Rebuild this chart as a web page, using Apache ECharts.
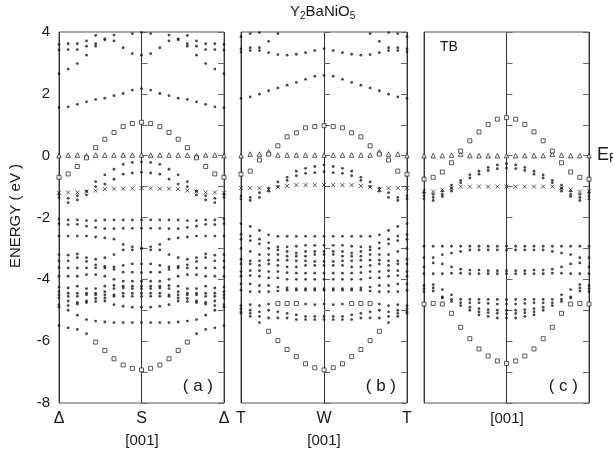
<!DOCTYPE html>
<html>
<head>
<meta charset="utf-8">
<script src="https://cdn.jsdelivr.net/npm/echarts@6/dist/echarts.min.js"></script>
<style>
  html, body { margin: 0; padding: 0; background: #fff; }
  #chart { width: 613px; height: 454px; }
</style>
</head>
<body>
<div id="chart"></div>
<script>
// each band lists energies (eV) from the zone edge (k = -1) to the centre (k = 0),
// 10 k points; the second half of each path mirrors the first
const kSteps = 9

// panel (a): Δ - S - Δ
const aTicks = ['Δ', 'S', 'Δ']
const aDots = [
  [3.6, 3.62, 3.62, 3.71, 3.89, 4.05, 4.1, 4.1, 3.95, 3.98],
  [3.42, 3.43, 3.43, 3.54, 3.62, 3.78, 3.71, 3.49, 3.3, 3.25],
  [2.65, 2.8, 2.98, 3.25, 3.54, 3.75, 3.9, 4.1, 4.2, 4.2],
  [1.55, 1.58, 1.66, 1.74, 1.82, 1.86, 1.94, 2.01, 2.12, 2.17],
  [-1.25, -1.38, -1.43, -1.27, -0.84, -0.62, -0.44, -0.28, -0.22, -0.2],
  [-1.35, -1.52, -1.3, -1.15, -1.0, -0.92, -0.76, -0.6, -0.56, -0.54],
  [-2.05, -2.08, -2.08, -2.1, -2.1, -2.08, -2.08, -2.08, -2.08, -2.08],
  [-2.2, -2.23, -2.22, -2.28, -2.32, -2.36, -2.36, -2.35, -2.35, -2.35],
  [-2.6, -2.6, -2.6, -2.6, -2.63, -2.66, -2.7, -2.87, -2.95, -3.0],
  [-3.2, -3.22, -3.18, -3.3, -3.35, -3.3, -3.2, -3.05, -3.05, -3.0],
  [-3.4, -3.4, -3.3, -3.42, -3.53, -3.58, -3.6, -3.55, -3.5, -3.5],
  [-3.62, -3.63, -3.63, -3.63, -3.63, -3.63, -3.68, -3.77, -3.77, -3.78],
  [-3.9, -3.9, -3.9, -3.85, -3.85, -3.9, -4.0, -4.06, -4.06, -4.06],
  [-4.25, -4.28, -4.22, -4.3, -4.3, -4.22, -4.2, -4.22, -4.22, -4.22],
  [-4.4, -4.45, -4.45, -4.45, -4.45, -4.4, -4.3, -4.28, -4.3, -4.3],
  [-4.5, -4.55, -4.55, -4.5, -4.5, -4.5, -4.5, -4.45, -4.45, -4.45],
  [-4.6, -4.7, -4.75, -4.7, -4.62, -4.6, -4.55, -4.55, -4.55, -4.55],
  [-4.82, -4.85, -4.8, -4.75, -4.72, -4.7, -4.82, -4.87, -4.9, -4.9],
  [-4.9, -5.0, -5.16, -5.3, -5.35, -5.38, -5.4, -5.4, -5.4, -5.4],
  [-5.5, -5.57, -5.62, -5.76, null, null, null, null, null, null]
]
const aSquares = [
  [-0.7, -0.59, -0.35, -0.07, 0.26, 0.53, 0.75, 0.94, 1.04, 1.08],
  [null, null, null, null, -6.03, -6.3, -6.57, -6.77, -6.88, -6.93]
]
const aTriangles = [[0, 0.02, 0.02, 0.0, 0.02, 0.02, 0.02, 0.02, 0.02, 0.02]]
const aCrosses = [[-1.2, -1.19, -1.19, -1.16, -1.13, -1.08, -1.07, -1.07, -1.06, -1.05]]

// panel (b): T - W - T
const bTicks = ['T', 'W', 'T']
const bDots = [
  [3.85, 3.95, 3.98, 4.1, 4.2, null, null, null, null, null],
  [3.35, 3.4, 3.4, 3.7, 3.95, 4.2, null, null, null, null],
  [3.45, 3.49, 3.49, 3.33, 3.27, 3.25, 3.28, 3.33, 3.4, 3.46],
  [1.85, 1.9, 1.99, 2.1, 2.19, 2.28, 2.37, 2.47, 2.57, 2.6],
  [-1.3, -1.35, -1.2, -1.05, -0.85, -0.7, -0.5, -0.41, -0.35, -0.3],
  [-1.4, -1.45, -1.35, -1.15, -1.0, -0.8, -0.65, -0.57, -0.55, -0.52],
  [-2.2, -2.29, -2.42, -2.56, -2.61, -2.61, -2.61, -2.61, -2.61, -2.61],
  [-2.55, -2.6, -2.7, -2.82, -2.95, -2.95, -2.93, -2.9, -2.9, -2.9],
  [-2.7, -2.75, -2.85, -3.0, -3.05, -3.1, -3.15, -3.1, -3.1, -3.1],
  [-3.0, -3.1, -3.2, -3.2, -3.2, -3.25, -3.25, -3.25, -3.2, -3.2],
  [-3.35, -3.4, -3.4, -3.38, -3.38, -3.38, -3.4, -3.4, -3.42, -3.42],
  [-3.5, -3.5, -3.55, -3.5, -3.55, -3.6, -3.6, -3.55, -3.55, -3.55],
  [-3.75, -3.72, -3.72, -3.75, -3.75, -3.78, -3.8, -3.8, -3.8, -3.8],
  [-3.9, -3.88, -3.9, -3.95, -3.95, -4.0, -4.0, -4.0, -4.0, -4.0],
  [-4.15, -4.15, -4.2, -4.2, -4.25, -4.28, -4.3, -4.3, -4.3, -4.3],
  [-4.35, -4.4, -4.4, -4.4, -4.38, -4.35, -4.35, -4.35, -4.35, -4.35],
  [-4.85, -4.82, -4.85, -4.8, null, null, null, -4.8, -4.82, -4.8],
  [-4.95, -5.0, -5.05, -5.0, -5.05, -5.1, -5.15, -5.2, -5.2, -5.2],
  [-5.05, -5.1, -5.2, -5.25, -5.25, -5.25, -5.3, -5.3, -5.3, -5.3],
  [-5.1, -5.2, -5.4, null, null, null, null, null, null, null]
]
const bSquares = [
  [-0.6, -0.5, -0.14, 0.05, 0.32, 0.61, 0.74, 0.9, 0.94, 0.97],
  [null, null, null, null, -4.78, -4.78, -4.78, null, null, null],
  [null, null, null, -5.68, -5.98, -6.27, -6.5, -6.73, -6.86, -6.93]
]
const bTriangles = [[0, 0.05, 0.05, 0.12, 0.02, 0.02, 0.02, 0.02, 0.02, 0.02]]
const bCrosses = [[-1.05, -1.05, -1.05, -1.1, -1.02, -0.98, -0.95, -0.95, -0.95, -0.95]]

// panel (c): tight-binding fit
const cTicks = ['', '', '']
const cDots = [
  [-1.2, -1.25, -1.15, -0.95, -0.8, -0.62, -0.5, -0.38, -0.3, -0.25],
  [-1.3, -1.35, -1.25, -1.05, -0.88, -0.72, -0.6, -0.48, -0.42, -0.4],
  [-1.4, -1.45, -1.32, -1.15, null, null, null, null, null, null],
  [-2.93, -2.93, -2.93, -2.93, -2.93, -2.93, -2.93, -2.93, -2.93, -2.93],
  [-3.3, -3.3, -3.2, -3.15, -3.1, -3.05, -3.05, -3.05, -3.05, -3.05],
  [-3.6, -3.47, -3.5, -3.6, -3.67, -3.7, -3.7, -3.72, -3.72, -3.72],
  [-3.82, -3.82, -3.82, -3.8, -3.8, -3.82, -3.82, -3.82, -3.82, -3.82],
  [-4.2, -4.17, -4.33, -4.5, -4.65, -4.65, -4.65, -4.65, -4.65, -4.65],
  [-4.3, -4.28, -4.57, -4.65, -4.76, -4.76, -4.76, -4.78, -4.8, -4.8],
  [-4.4, -4.38, -4.6, -4.72, -4.85, -4.9, -4.95, -4.98, -5.0, -5.0],
  [null, null, null, null, null, -5.0, -5.05, -5.08, -5.1, -5.12],
  [null, null, null, null, null, null, -5.15, -5.2, -5.25, -5.25]
]
const cSquares = [
  [-0.76, -0.7, -0.53, -0.23, 0.15, 0.48, 0.77, 1.01, 1.18, 1.23],
  [-4.8, -4.78, -4.8, -5.1, -5.55, -5.92, -6.25, -6.48, -6.64, -6.72]
]
const cTriangles = [[0, 0, 0, 0.02, 0.05, 0, 0, 0, 0, 0]]
const cCrosses = [[-1.15, -1.16, -1.1, -1.05, -1.0, -1.0, -1.0, -1.0, -1.0, -1.0]]

const yTicks = [-8, -6, -4, -2, 0, 2, 4]

const panels = [
  { dots: aDots, squares: aSquares, triangles: aTriangles, crosses: aCrosses, ticks: aTicks },
  { dots: bDots, squares: bSquares, triangles: bTriangles, crosses: bCrosses, ticks: bTicks },
  { dots: cDots, squares: cSquares, triangles: cTriangles, crosses: cCrosses, ticks: cTicks }
]

// band -> scatter points over the whole path
function toPoints(bands) {
  const pts = []
  bands.forEach(band => {
    band.forEach((v, i) => {
      if (v == null) return
      pts.push([-1 + i / kSteps, v])
      if (i < kSteps) pts.push([1 - i / kSteps, v])
    })
  })
  return pts
}

const font = 'Liberation Sans, Arial, sans-serif'
const ink = '#1a1a1a'
const frames = [
  { left: 59, width: 165 },
  { left: 241, width: 166 },
  { left: 424, width: 165 }
]

const grid = frames.map(f => ({
  left: f.left, width: f.width, top: 32, height: 371,
  show: true, borderColor: '#555', borderWidth: 1, backgroundColor: 'transparent'
}))

const xAxis = panels.map((p, i) => ({
  type: 'value', gridIndex: i, min: -1, max: 1, interval: 1,
  axisLine: { show: false }, axisTick: { show: false },
  splitLine: { show: true, lineStyle: { color: '#333', width: 1 } },
  axisLabel: {
    margin: 8, fontSize: 16, color: ink, fontFamily: font,
    formatter: v => p.ticks[Math.round(v) + 1]
  }
}))

const yAxis = []
panels.forEach((p, i) => {
  ;['left', 'right'].forEach(pos => {
    yAxis.push({
      type: 'value', gridIndex: i, position: pos, min: -8, max: 4, interval: 1,
      axisLine: { show: false },
      axisTick: { show: true, inside: true, length: 6, lineStyle: { color: '#666' } },
      splitLine: { show: false },
      axisLabel: {
        show: i === 0 && pos === 'left', margin: 9, fontSize: 15, color: ink, fontFamily: font,
        formatter: v => (yTicks.includes(v) ? String(v) : '')
      }
    })
  })
})

const hollow = { color: '#fff', borderColor: ink, borderWidth: 0.9 }
const series = []
panels.forEach((p, i) => {
  const axes = { xAxisIndex: i, yAxisIndex: i * 2, silent: true, animation: false }
  series.push({ ...axes, type: 'scatter', symbol: 'circle', symbolSize: 2.8,
    itemStyle: { color: ink }, data: toPoints(p.dots) })
  series.push({ ...axes, type: 'scatter', symbol: 'path://M0,0L10,10M10,0L0,10', symbolSize: 4,
    itemStyle: { color: 'none', borderColor: ink, borderWidth: 0.9 }, data: toPoints(p.crosses) })
  series.push({ ...axes, type: 'scatter', symbol: 'triangle', symbolSize: 4.5,
    itemStyle: hollow, data: toPoints(p.triangles) })
  series.push({ ...axes, type: 'scatter', symbol: 'rect', symbolSize: 4,
    itemStyle: hollow, data: toPoints(p.squares) })
})

const tags = ['( a )', '( b )', '( c )']
const graphic = [
  { type: 'text', x: 16, y: 216, rotation: Math.PI / 2,
    style: { text: 'ENERGY ( eV )', font: '15px ' + font, fill: ink, align: 'center', verticalAlign: 'middle' } },
  { type: 'text', x: 597, y: 145,
    style: { text: '{n|E}{s|F}', fill: ink, font: '18px ' + font,
      rich: { n: { fontSize: 18, lineHeight: 20, fontFamily: font }, s: { fontSize: 13, lineHeight: 13, verticalAlign: 'bottom', fontFamily: font } } } },
  { type: 'text', x: 440, y: 40, style: { text: 'TB', font: '14px ' + font, fill: ink } },
  { type: 'text', x: 142, y: 441, style: { text: '[001]', font: '15px ' + font, fill: ink, align: 'center', verticalAlign: 'middle' } },
  { type: 'text', x: 324, y: 441, style: { text: '[001]', font: '15px ' + font, fill: ink, align: 'center', verticalAlign: 'middle' } },
  { type: 'text', x: 507, y: 419, style: { text: '[001]', font: '15px ' + font, fill: ink, align: 'center', verticalAlign: 'middle' } }
]
frames.forEach((f, i) => {
  graphic.push({ type: 'text', x: f.left + f.width - 11, y: 386,
    style: { text: tags[i], font: '17px ' + font, fill: ink, align: 'right', verticalAlign: 'middle' } })
})

const chart = echarts.init(document.getElementById('chart'), null, { renderer: 'canvas' })
chart.setOption({
  backgroundColor: '#fff',
  animation: false,
  title: {
    text: '{n|Y}{s|2}{n|BaNiO}{s|5}', left: 290, top: 3, padding: 0,
    textStyle: {
      fontWeight: 'normal',
      rich: {
        n: { fontSize: 15, lineHeight: 18, color: ink, fontFamily: font, fontWeight: 'normal' },
        s: { fontSize: 10, lineHeight: 10, verticalAlign: 'bottom', color: ink, fontFamily: font, fontWeight: 'normal' }
      }
    }
  },
  grid, xAxis, yAxis, series, graphic
})
</script>
</body>
</html>
